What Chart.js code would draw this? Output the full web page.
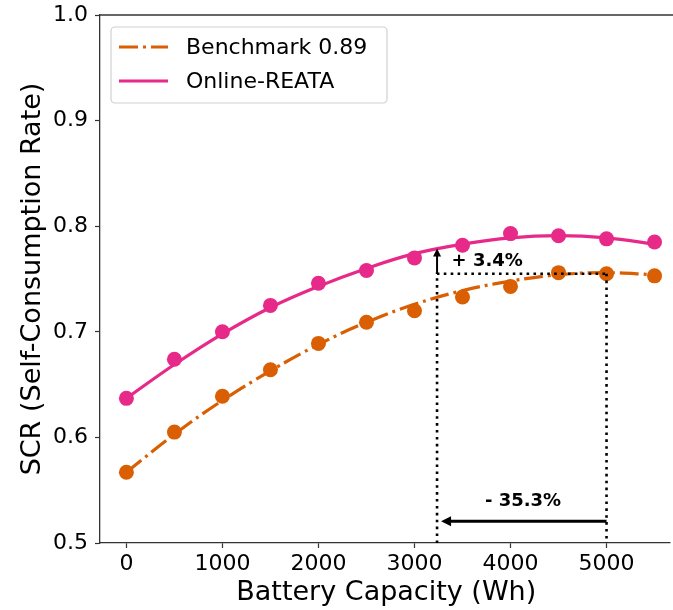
<!DOCTYPE html>
<html>
<head>
<meta charset="utf-8">
<script src="https://cdn.jsdelivr.net/npm/chart.js@4/dist/chart.umd.min.js"></script>
<style>
html,body{margin:0;padding:0;background:#fff;overflow:hidden;}
canvas{display:block;}
</style>
</head>
<body>
<canvas id="c" width="680" height="610"></canvas>
<script>
// ---- data ----
const capacities = [0, 500, 1000, 1500, 2000, 2500, 3000, 3500, 4000, 4500, 5000, 5500];
const benchmarkPoints = [0.567, 0.605, 0.639, 0.664, 0.689, 0.709, 0.720, 0.733, 0.743, 0.756, 0.755, 0.753];
const reataPoints = [0.637, 0.674, 0.700, 0.725, 0.746, 0.758, 0.770, 0.782, 0.793, 0.791, 0.788, 0.785];
const benchmarkFit = [0.567, 0.603, 0.635, 0.663, 0.688, 0.709, 0.726, 0.739, 0.748, 0.754, 0.756, 0.754];
const reataFit = [0.637, 0.669, 0.698, 0.723, 0.743, 0.760, 0.774, 0.783, 0.789, 0.791, 0.789, 0.783];
const xTicks = [0, 1000, 2000, 3000, 4000, 5000];
const yTicks = [0.5, 0.6, 0.7, 0.8, 0.9, 1.0];
const seriesNames = ['Benchmark 0.89', 'Online-REATA'];
// annotation values (data units)
const capacityBenchmark = 5000;
const capacityReata = 3235;
const scrLevel = 0.755;
const scrArrowTip = 0.779;
const reductionArrowLevel = 0.5205;
const gainLabel = '+ 3.4%';
const reductionLabel = '- 35.3%';
const gainLabelPos = [3757, 0.767];
const reductionLabelPos = [4130, 0.539];

const ORANGE = '#d95f02';
const PINK = '#e7298a';
const FONT = "'DejaVu Sans', sans-serif";
const dashDot = [19, 5, 3, 5];

const toXY = (xs, ys) => xs.map((x, i) => ({x: x, y: ys[i]}));

const overlay = {
  id: 'overlay',
  afterDatasetsDraw(chart) {
    const ctx = chart.ctx;
    const xs = chart.scales.x, ys = chart.scales.y;
    const ca = chart.chartArea;
    const X = v => xs.getPixelForValue(v), Y = v => ys.getPixelForValue(v);
    ctx.save();
    // dotted guide lines
    ctx.strokeStyle = '#000'; ctx.lineWidth = 2.6; ctx.setLineDash([2.6, 4.3]);
    ctx.beginPath();
    ctx.moveTo(X(capacityReata), Y(0.5)); ctx.lineTo(X(capacityReata), Y(scrLevel));
    ctx.lineTo(X(capacityBenchmark), Y(scrLevel));
    ctx.moveTo(X(capacityBenchmark), Y(scrLevel)); ctx.lineTo(X(capacityBenchmark), Y(0.5));
    ctx.stroke();
    ctx.setLineDash([]);

    // vertical arrow (gain)
    const ax = X(capacityReata);
    ctx.lineWidth = 2; ctx.strokeStyle = '#000'; ctx.fillStyle = '#000';
    ctx.beginPath(); ctx.moveTo(ax, Y(scrLevel)); ctx.lineTo(ax, Y(scrArrowTip) + 3); ctx.stroke();
    ctx.beginPath(); ctx.moveTo(ax, Y(scrArrowTip)); ctx.lineTo(ax - 4, Y(scrArrowTip) + 8);
    ctx.lineTo(ax + 4, Y(scrArrowTip) + 8); ctx.closePath(); ctx.fill();

    // horizontal arrow (reduction)
    const ay = Y(reductionArrowLevel);
    const tipX = X(capacityReata) + 4;
    ctx.lineWidth = 3;
    ctx.beginPath(); ctx.moveTo(X(capacityBenchmark), ay); ctx.lineTo(tipX + 5, ay); ctx.stroke();
    ctx.beginPath(); ctx.moveTo(tipX, ay); ctx.lineTo(tipX + 10, ay - 5); ctx.lineTo(tipX + 10, ay + 5); ctx.closePath(); ctx.fill();

    // labels
    ctx.font = "bold 18px " + FONT;
    ctx.textAlign = 'center'; ctx.textBaseline = 'middle';
    ctx.fillText(gainLabel, X(gainLabelPos[0]), Y(gainLabelPos[1]));
    ctx.fillText(reductionLabel, X(reductionLabelPos[0]), Y(reductionLabelPos[1]));

    // legend
    const lx = ca.left + 11, ly = ca.top + 12, lw = 276, lh = 76;
    ctx.fillStyle = 'rgba(255,255,255,0.85)';
    ctx.strokeStyle = '#d0d0d0'; ctx.lineWidth = 1.2;
    ctx.beginPath(); ctx.roundRect(lx, ly, lw, lh, 4); ctx.fill(); ctx.stroke();
    const rows = [[ORANGE, dashDot], [PINK, []]];
    rows.forEach((r, i) => {
      const yy = ly + 20 + i * 34;
      ctx.strokeStyle = r[0]; ctx.lineWidth = 3.2; ctx.setLineDash(r[1]);
      ctx.beginPath(); ctx.moveTo(lx + 8, yy); ctx.lineTo(lx + 57, yy); ctx.stroke();
      ctx.setLineDash([]);
      ctx.fillStyle = '#000'; ctx.font = "22px " + FONT;
      ctx.textAlign = 'left'; ctx.textBaseline = 'middle';
      ctx.fillText(seriesNames[i], lx + 75, yy + 1);
    });
    ctx.restore();
  },
  afterDraw(chart) {
    const ctx = chart.ctx, ca = chart.chartArea;
    ctx.save();
    // clear the strip right of the visible plot (beyond the window edge)
    ctx.fillStyle = '#fff';
    ctx.fillRect(ca.right - 2, ca.top + 1, chart.width - ca.right + 2, chart.height - ca.top);
    // top spine
    ctx.strokeStyle = '#333'; ctx.lineWidth = 1.3; ctx.setLineDash([]);
    ctx.beginPath(); ctx.moveTo(ca.left, ca.top); ctx.lineTo(chart.width, ca.top); ctx.stroke();
    ctx.restore();
  }
};

const noPad = s => { s.paddingTop = 0; s.paddingBottom = 0; s.paddingLeft = 0; s.paddingRight = 0; };

new Chart(document.getElementById('c'), {
  type: 'line',
  data: {
    datasets: [
      {label: seriesNames[0] + ' fit', data: toXY(capacities, benchmarkFit), borderColor: ORANGE, borderWidth: 3.2,
       borderDash: dashDot, pointRadius: 0, tension: 0.4, fill: false, order: 3},
      {label: seriesNames[1] + ' fit', data: toXY(capacities, reataFit), borderColor: PINK, borderWidth: 3.2,
       pointRadius: 0, tension: 0.4, fill: false, order: 2},
      {label: seriesNames[0], data: toXY(capacities, benchmarkPoints), showLine: false, pointRadius: 7.5,
       pointBackgroundColor: ORANGE, pointBorderColor: ORANGE, pointBorderWidth: 0, order: 1},
      {label: seriesNames[1], data: toXY(capacities, reataPoints), showLine: false, pointRadius: 7.5,
       pointBackgroundColor: PINK, pointBorderColor: PINK, pointBorderWidth: 0, order: 0}
    ]
  },
  options: {
    responsive: false,
    animation: false,
    clip: false,
    layout: {padding: {top: 15, right: 0, left: 0, bottom: 0}},
    plugins: {legend: {display: false}, tooltip: {enabled: false}},
    scales: {
      x: {
        type: 'linear', min: -275, max: 5687,
        afterBuildTicks: s => { s.ticks = xTicks.map(v => ({value: v})); },
        afterFit: s => { s.height = 67; noPad(s); },
        grid: {drawOnChartArea: false, drawTicks: true, tickLength: 5, color: '#333', tickWidth: 1.2},
        border: {display: true, color: '#333', width: 1.3},
        ticks: {font: {family: FONT, size: 22}, color: '#000', padding: 3, maxRotation: 0, callback: v => String(v)},
        title: {display: true, text: 'Battery Capacity (Wh)', font: {family: FONT, size: 27}, color: '#000', padding: {top: 0, bottom: 1}}
      },
      y: {
        min: 0.5, max: 1.0,
        afterBuildTicks: s => { s.ticks = yTicks.map(v => ({value: v})); },
        afterFit: s => { s.width = 100; noPad(s); },
        grid: {drawOnChartArea: false, drawTicks: true, tickLength: 5, color: '#333', tickWidth: 1.2},
        border: {display: true, color: '#333', width: 1.3},
        ticks: {font: {family: FONT, size: 22}, color: '#000', padding: 7, callback: v => v.toFixed(1)},
        title: {display: true, text: 'SCR (Self-Consumption Rate)', font: {family: FONT, size: 27}, color: '#000', padding: {top: 17, bottom: 0}}
      }
    }
  },
  plugins: [overlay]
});
</script>
</body>
</html>
